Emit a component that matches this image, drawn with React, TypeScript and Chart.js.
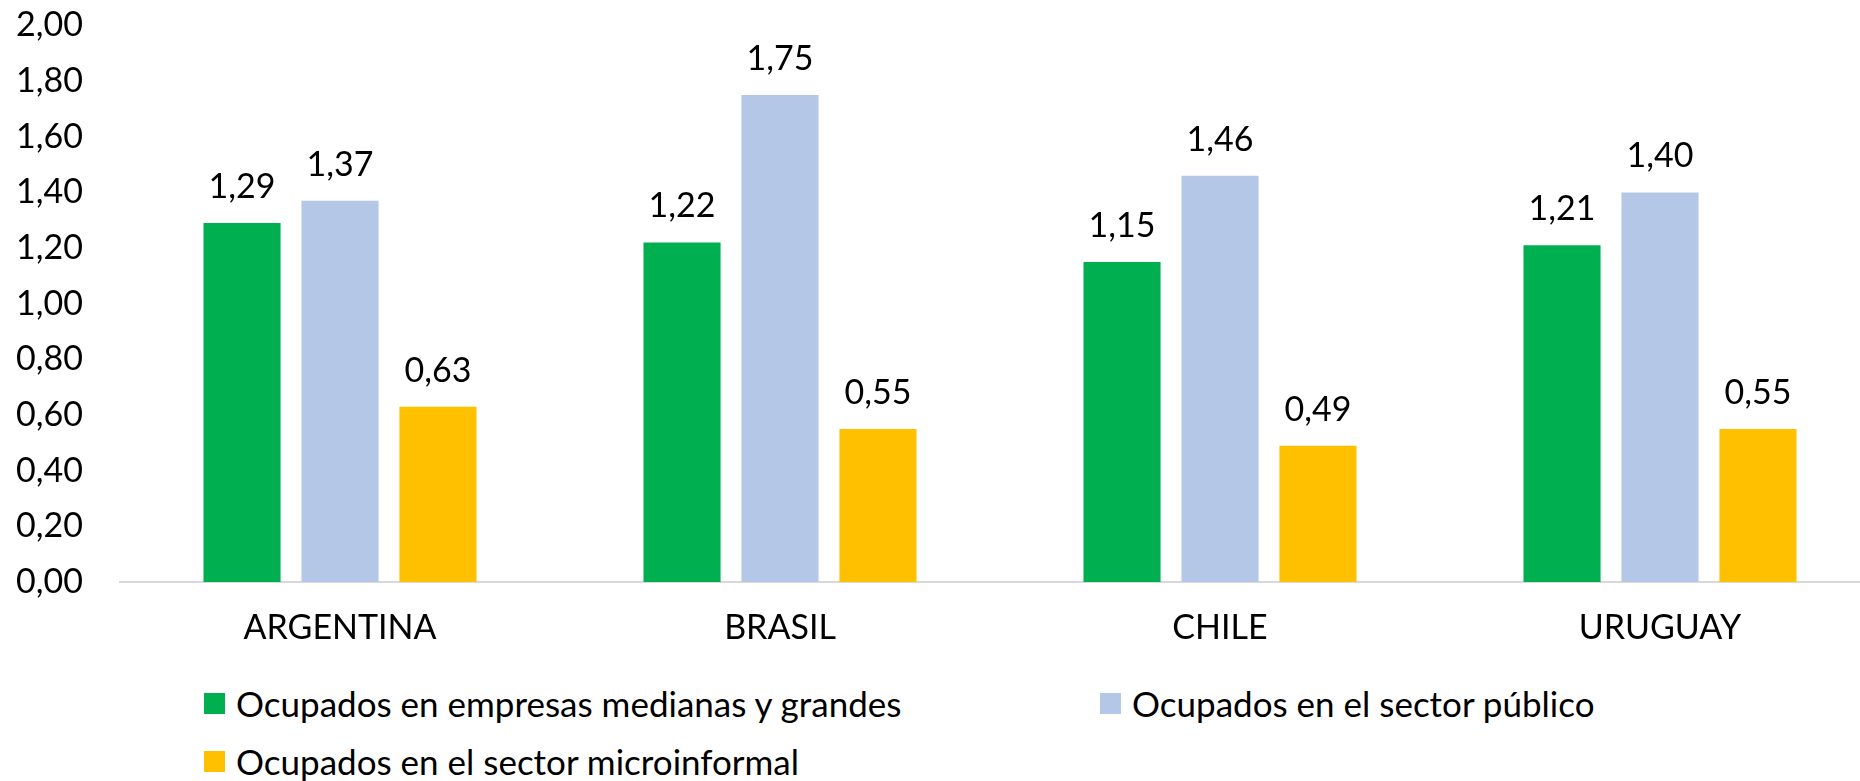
import React, { useEffect, useRef } from "react";
import { Chart, registerables } from "chart.js";

Chart.register(...registerables);

const categories = ["ARGENTINA", "BRASIL", "CHILE", "URUGUAY"];
const seriesNames = [
  "Ocupados en empresas medianas y grandes",
  "Ocupados en el sector público",
  "Ocupados en el sector microinformal",
];
const medianasGrandes = [1.29, 1.22, 1.15, 1.21];
const sectorPublico = [1.37, 1.75, 1.46, 1.4];
const microinformal = [0.63, 0.55, 0.49, 0.55];
const seriesColors = ["#00B050", "#B4C7E7", "#FFC000"];

const FONT = "Lato";
const FONT_SIZE = 34;
const LEGEND_FONT_SIZE = 35;

const fmt = (v: number) => v.toFixed(2).replace(".", ",");

const dataLabelPlugin = {
  id: "dataLabels",
  afterDatasetsDraw(chart: any) {
    const ctx = chart.ctx;
    ctx.save();
    ctx.font = `${FONT_SIZE}px ${FONT}`;
    ctx.fillStyle = "#000";
    ctx.textAlign = "center";
    ctx.textBaseline = "alphabetic";
    chart.data.datasets.forEach((ds: any, i: number) => {
      const meta = chart.getDatasetMeta(i);
      meta.data.forEach((el: any, j: number) => {
        ctx.fillText(fmt(ds.data[j]), el.x, el.y - 25);
      });
    });
    ctx.restore();
  },
};

export default function App() {
  const canvasRef = useRef<HTMLCanvasElement | null>(null);

  useEffect(() => {
    let chart: Chart | null = null;
    let cancelled = false;
    const build = () => {
      if (cancelled || !canvasRef.current) return;
      chart = new Chart(canvasRef.current, {
        type: "bar",
        data: {
          labels: categories,
          datasets: [medianasGrandes, sectorPublico, microinformal].map((d, i) => ({
            label: seriesNames[i],
            data: d,
            backgroundColor: seriesColors[i],
            borderWidth: 0,
            categoryPercentage: 0.668,
            barPercentage: 0.787,
          })),
        },
        options: {
          responsive: false,
          animation: false,
          devicePixelRatio: 1,
          layout: { padding: { top: 0, left: 0, right: 0, bottom: 0 } },
          plugins: {
            legend: { display: false },
            tooltip: { enabled: false },
            title: { display: false },
          },
          scales: {
            x: {
              grid: { display: false, drawTicks: false },
              border: { display: true, color: "#D9D9D9", width: 2 },
              ticks: {
                color: "#000",
                font: { family: FONT, size: FONT_SIZE },
                padding: 26,
              },
              afterFit: (scale: any) => {
                scale.height = 78;
              },
            },
            y: {
              min: 0,
              max: 2,
              grid: { display: false, drawTicks: false },
              border: { display: false },
              ticks: {
                stepSize: 0.2,
                color: "#000",
                font: { family: FONT, size: FONT_SIZE },
                padding: 37,
                callback: (v: any) => fmt(Number(v)),
              },
              afterFit: (scale: any) => {
                scale.width = 120;
              },
            },
          },
        },
        plugins: [dataLabelPlugin],
      });
    };
    const fonts: any = (document as any).fonts;
    if (fonts && fonts.load) {
      fonts.load(`${FONT_SIZE}px ${FONT}`).then(build, build);
    } else {
      build();
    }
    return () => {
      cancelled = true;
      if (chart) chart.destroy();
    };
  }, []);

  const legendItem = (i: number, left: number, top: number) => (
    <div
      key={i}
      style={{
        position: "absolute",
        left,
        top,
        height: 40,
        display: "flex",
        alignItems: "center",
        whiteSpace: "nowrap",
        fontFamily: FONT,
        fontSize: LEGEND_FONT_SIZE,
        color: "#000",
        lineHeight: "40px",
      }}
    >
      <span
        style={{
          display: "inline-block",
          width: 21,
          height: 21,
          background: seriesColors[i],
          marginRight: 11,
        }}
      />
      <span>{seriesNames[i]}</span>
    </div>
  );

  return (
    <div
      style={{
        position: "fixed",
        left: 0,
        top: 0,
        width: 1860,
        height: 781,
        overflow: "hidden",
        background: "#fff",
      }}
    >
      <canvas
        ref={canvasRef}
        width={1880}
        height={692}
        style={{ position: "absolute", left: 0, top: -32, width: 1880, height: 692 }}
      />
      {legendItem(0, 204, 683)}
      {legendItem(1, 1100, 683)}
      {legendItem(2, 204, 741)}
    </div>
  );
}
